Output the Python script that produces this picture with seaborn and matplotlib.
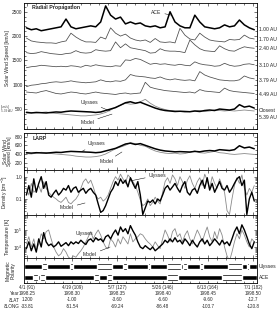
import numpy as np
import matplotlib
matplotlib.use("Agg")
import matplotlib.pyplot as plt
import seaborn as sns
from matplotlib.ticker import FixedLocator, MultipleLocator, LogLocator, NullFormatter, FixedFormatter
from matplotlib.patches import Rectangle

sns.set_theme(style="ticks")
plt.rcParams['font.family'] = ['Liberation Sans', 'DejaVu Sans']
plt.rcParams['font.size'] = 3.5
plt.rcParams['mathtext.fontset'] = 'custom'
plt.rcParams['mathtext.rm'] = 'Liberation Sans'

# ---------------- data ----------------
days2 = np.arange(91, 184, 2)   # day of year, 2-day sampling
days1 = np.arange(91, 184)      # day of year, daily sampling

ace_100au = [2170, 2130, 2150, 2110, 2130, 2150, 2170, 2190, 2350, 2190,
             2150, 2170, 2190, 2210, 2190, 2290, 2620, 2430, 2350, 2390,
             2250, 2290, 2250, 2270, 2210, 2190, 2210, 2170, 2190, 2500,
             2290, 2210, 2170, 2170, 2430, 2290, 2190, 2170, 2150, 2170,
             2230, 2190, 2210, 2330, 2230, 2170, 2130]
prop_170au = [1960, 1900, 1880, 1870, 1860, 1860, 1850, 1880, 1900, 2060,
              1980, 1920, 1880, 1880, 1870, 1980, 1940, 2170, 2060, 2000,
              2040, 1960, 1920, 1900, 1920, 1870, 1950, 1880, 1870, 1880,
              1860, 2160, 2020, 1940, 1920, 2060, 1980, 1920, 1900, 1890,
              1880, 1930, 1920, 1930, 2020, 1960, 1940]
prop_240au = [1660, 1640, 1650, 1680, 1660, 1640, 1630, 1620, 1640, 1650,
              1700, 1660, 1650, 1660, 1720, 1700, 1690, 1700, 1880, 1760,
              1840, 1760, 1740, 1720, 1700, 1650, 1660, 1740, 1700, 1690,
              1690, 1680, 1660, 1920, 1820, 1740, 1700, 1690, 1680, 1800,
              1740, 1700, 1690, 1740, 1780, 1760, 1750]
prop_310au = [1350, 1370, 1380, 1400, 1390, 1380, 1370, 1380, 1370, 1390,
              1380, 1360, 1400, 1380, 1410, 1390, 1380, 1370, 1390, 1380,
              1510, 1500, 1540, 1520, 1470, 1420, 1440, 1420, 1430, 1410,
              1400, 1420, 1400, 1390, 1470, 1430, 1410, 1400, 1380, 1390,
              1440, 1400, 1380, 1390, 1420, 1430, 1410]
prop_379au = [960, 990, 1000, 1020, 1030, 1050, 1060, 1050, 1060, 1080,
              1060, 1050, 1040, 1050, 1060, 1100, 1070, 1060, 1080, 1070,
              1100, 1210, 1180, 1170, 1160, 1140, 1130, 1160, 1120, 1100,
              1120, 1100, 1090, 1100, 1080, 1270, 1200, 1160, 1130, 1100,
              1090, 1080, 1080, 1100, 1180, 1140, 1120]
prop_449au = [850, 840, 830, 860, 880, 850, 820, 810, 830, 850,
              840, 820, 810, 830, 850, 830, 820, 810, 800, 820,
              830, 810, 820, 830, 1050, 950, 920, 900, 880, 870,
              860, 850, 840, 850, 830, 900, 870, 860, 850, 840,
              930, 880, 860, 850, 840, 830, 820]
ulysses_speed = [430, 420, 430, 425, 420, 430, 440, 435, 450, 460,
                 455, 450, 445, 440, 430, 440, 470, 500, 530, 580,
                 630, 650, 620, 640, 600, 560, 520, 490, 470, 460,
                 450, 455, 450, 445, 460, 450, 470, 480, 470, 500,
                 490, 480, 500, 590, 540, 560, 520]
prop_model_539au = [440, 430, 420, 430, 440, 420, 410, 400, 390, 380,
                    370, 360, 360, 370, 380, 400, 430, 480, 540, 580,
                    620, 600, 610, 650, 700, 620, 560, 520, 490, 470,
                    460, 450, 440, 450, 460, 470, 450, 460, 480, 470,
                    460, 470, 460, 470, 480, 470, 460]
larp_model_speed = [410, 400, 420, 440, 430, 410, 400, 390, 380, 370,
                    350, 340, 330, 330, 340, 360, 400, 460, 520, 560,
                    600, 660, 640, 600, 580, 520, 470, 440, 420, 410,
                    420, 400, 410, 440, 470, 430, 420, 440, 460, 430,
                    420, 400, 390, 400, 410, 400, 390]

ulysses_density = [0.15, 0.4, 0.12, 0.8, 0.2, 0.5, 1.0, 0.3, 0.6, 0.15,
                   0.12, 0.18, 0.25, 0.15, 0.2, 0.3, 0.25, 0.4, 0.2, 0.3,
                   0.35, 0.2, 0.25, 0.3, 0.18, 0.25, 0.3, 0.2, 0.15, 0.06,
                   0.025, 0.03, 0.05, 0.1, 0.2, 0.3, 0.6, 0.4, 0.8, 0.5,
                   0.7, 0.35, 0.9, 0.5, 0.3, 0.6, 0.15, 0.02, 0.04, 0.08,
                   0.07, 0.09, 0.06, 0.1, 0.08, 0.15, 0.3, 0.4, 0.25, 0.35,
                   0.5, 0.3, 0.2, 0.4, 0.6, 0.2, 0.15, 0.25, 0.3, 0.18,
                   0.4, 0.7, 0.3, 0.9, 0.25, 0.5, 0.2, 0.35, 0.6, 0.3,
                   0.25, 0.4, 0.2, 0.3, 0.5, 0.8, 1.0, 0.4, 0.7, 0.02,
                   0.1, 0.2, 0.08]
model_density = [0.3, 0.15, 0.5, 0.2, 0.25, 0.4, 0.2, 0.6, 0.3, 0.2,
                 0.15, 0.12, 0.1, 0.08, 0.07, 0.09, 0.12, 0.07, 0.06, 0.08,
                 0.1, 0.15, 0.3, 0.6, 0.8, 0.5, 0.7, 0.35, 0.15, 0.1,
                 0.12, 0.08, 0.1, 0.15, 0.3, 0.6, 1.0, 0.7, 1.3, 0.8,
                 0.5, 1.2, 0.9, 0.6, 0.4, 0.2, 0.09, 0.05, 0.06, 0.1,
                 0.05, 0.07, 0.12, 0.08, 0.06, 0.2, 0.6, 0.9, 0.5, 1.2,
                 0.8, 0.4, 1.0, 0.6, 0.3, 0.7, 1.1, 0.5, 0.3, 0.6,
                 0.9, 0.4, 1.3, 0.7, 0.3, 1.0, 0.5, 0.3, 0.8, 0.4,
                 0.2, 0.03, 0.02, 0.1, 0.4, 0.9, 0.5, 1.2, 0.3, 0.15,
                 0.3, 0.2, 0.4]
ulysses_temp = [8e3, 2e4, 6e3, 1.5e4, 5e3, 3e4, 1e4, 7e4, 2e4, 1.2e4,
                1.5e4, 1e4, 1.3e4, 2e4, 1.1e4, 1.4e4, 1.8e4, 1.2e4, 2e4, 1.5e4,
                2e4, 1.6e4, 2.5e4, 1.8e4, 1.4e4, 2.5e4, 3e4, 2e4, 3.5e4, 2.5e4,
                3e4, 2e4, 4e4, 5e4, 3e4, 6e4, 1e5, 5e4, 1.5e5, 8e4,
                1.2e5, 6e4, 1.8e5, 9e4, 5e4, 2e4, 1e4, 8e3, 1.2e4, 9e3,
                7e3, 1e4, 6e3, 8e3, 1.1e4, 1.5e4, 2.5e4, 1.8e4, 3e4, 2e4,
                3.5e4, 2e4, 2.5e4, 1.5e4, 3e4, 2e4, 1.2e4, 2.5e4, 1.5e4, 1e4,
                2e4, 3e4, 1.5e4, 2.5e4, 1.2e4, 1.8e4, 3e4, 2e4, 1.3e4, 2.5e4,
                1.5e4, 2e4, 1.2e4, 3e4, 8e4, 1.5e5, 6e4, 2e5, 1e5, 4e4,
                1.5e4, 8e3, 2e4]
model_temp = [1.5e4, 4e4, 1e4, 3e4, 6e3, 1.5e4, 6e4, 3e4, 8e4, 1e5,
              3e4, 1e4, 5e3, 3e3, 4e3, 8e3, 5e3, 2.5e3, 2e3, 3e3,
              2.5e3, 4e3, 6e3, 1e4, 2e4, 4e4, 8e4, 3e4, 6e4, 1e5,
              5e4, 2e4, 1e4, 8e3, 3e4, 2e4, 1e4, 3e4, 1.5e4, 4e4,
              2.5e4, 1.5e4, 6e4, 2e4, 3e4, 4e4, 6e4, 5e4, 3e4, 2e4,
              1.5e4, 1e4, 2e4, 1.2e4, 8e3, 3e4, 1e5, 5e4, 2e4, 8e4,
              1.2e5, 4e4, 6e4, 2e4, 5e4, 9e4, 3e4, 1.5e4, 4e4, 1e5,
              5e4, 2e4, 6e4, 1.5e5, 4e4, 2e4, 8e4, 3e4, 1.2e5, 5e4,
              1e4, 3e3, 1.5e3, 5e3, 2e4, 6e4, 3e4, 1e5, 5e4, 2e4,
              1e4, 3e4, 2e4]

# magnetic polarity: start/end day of the "black" sectors
uly_pol_start = [90.0, 99.3, 109.8, 125.6, 131.6, 140.9, 153.4, 155.9, 162.3, 178.1, 180.9]
uly_pol_end = [97.3, 108.6, 119.5, 130.0, 140.1, 147.8, 154.2, 161.1, 172.4, 180.1, 184.2]
ace_pol_start = [90.0, 95.7, 98.5, 120.3, 125.6, 152.2, 178.1]
ace_pol_end = [93.7, 96.5, 118.2, 123.6, 147.8, 170.0, 184.2]

# x tick labels
tick_days = [91.25, 109.5, 127.75, 146.0, 164.25, 182.5]
tick_dates = ["4/1 (91)", "4/19 (109)", "5/7 (127)", "5/26 (146)", "6/13 (164)", "7/1 (182)"]
tick_years = ["1998.25", "1998.30", "1998.35", "1998.40", "1998.45", "1998.50"]
tick_dlat = ["1.200", "-1.00", "-3.60", "-6.60", "-9.60", "-12.7"]
tick_dlong = ["-33.81", "-51.54", "-69.24", "-86.48", "-103.7", "-120.8"]

trace_labels = ["1.00 AU", "1.70 AU", "2.40 AU", "3.10 AU", "3.79 AU", "4.49 AU"]
trace_label_levels = [2144, 1939, 1754, 1404, 1096, 808]

# ---------------- figure ----------------
fig = plt.figure(figsize=(2.79, 3.10), dpi=100)
FW, FH = 279.0, 310.0
L, W = 24 / FW, 233 / FW


def add(top, bot):
    return fig.add_axes([L, 1 - bot / FH, W, (bot - top) / FH])


ax1 = add(3, 129)
ax2 = add(133, 170)
ax3 = add(170, 215)
ax4 = add(215, 258)
ax5 = add(258, 283)
axes = [ax1, ax2, ax3, ax4, ax5]

DARK = "#4a4a4a"
GRAY = "#8a8a8a"
TXT = 3.6
TICK = 3.4

# panel 1: radial propagation
sns.lineplot(x=days2, y=ace_100au, ax=ax1, color="black", linewidth=1.1)
for tr in [prop_170au, prop_240au, prop_310au, prop_379au, prop_449au]:
    sns.lineplot(x=days2, y=tr, ax=ax1, color=DARK, linewidth=0.55)
sns.lineplot(x=days2, y=prop_model_539au, ax=ax1, color=GRAY, linewidth=0.6)
sns.lineplot(x=days2, y=ulysses_speed, ax=ax1, color="black", linewidth=1.1)
ax1.set_ylim(90, 2680)
ax1.yaxis.set_major_locator(FixedLocator([500, 1000, 1500, 2000, 2500]))
ax1.yaxis.set_minor_locator(MultipleLocator(100))
ax1.set_ylabel("Solar Wind Speed [km/s]", fontsize=TXT)
ax1.yaxis.set_label_coords(-0.058, 0.56)
ax1.text(0.035, 0.985, "Radial Propagation", transform=ax1.transAxes, fontsize=3.8,
         fontweight="bold", va="top", ha="left")
for lab, lev in zip(trace_labels, trace_label_levels):
    ax1.text(1.008, lev, lab, transform=ax1.get_yaxis_transform(), fontsize=TXT,
             va="center", ha="left")
ax1.text(1.008, 480, "Closest", transform=ax1.get_yaxis_transform(), fontsize=TXT,
         va="center", ha="left")
ax1.text(1.008, 336, "5.39 AU", transform=ax1.get_yaxis_transform(), fontsize=TXT,
         va="center", ha="left")
ax1.text(-0.098, 500, "[km/s]\n5.39 AU", transform=ax1.get_yaxis_transform(),
         fontsize=2.3, va="center", ha="left", color=DARK, linespacing=0.9)
arrow = dict(arrowstyle="-", lw=0.35, color="black", shrinkA=0, shrinkB=0)
ax1.annotate("ACE", xy=(149.6, 2430), xytext=(143.5, 2494), fontsize=TXT,
             ha="center", va="center", arrowprops=arrow)
ax1.annotate("Ulysses", xy=(124.8, 459), xytext=(116.3, 637), fontsize=TXT,
             ha="center", va="center", arrowprops=arrow)
ax1.annotate("Model", xy=(125.6, 397), xytext=(115.7, 233), fontsize=TXT,
             ha="center", va="center", arrowprops=arrow)

# panel 2: LARP
sns.lineplot(x=days2, y=larp_model_speed, ax=ax2, color=GRAY, linewidth=0.6)
sns.lineplot(x=days2, y=ulysses_speed, ax=ax2, color="black", linewidth=1.1)
ax2.set_ylim(30, 885)
ax2.yaxis.set_major_locator(FixedLocator([200, 400, 600, 800]))
ax2.yaxis.set_minor_locator(MultipleLocator(100))
ax2.set_ylabel("Solar Wind\nSpeed [km/s]", fontsize=TXT, linespacing=0.95)
ax2.yaxis.set_label_coords(-0.05, 0.5)
ax2.text(0.035, 0.93, "LARP", transform=ax2.transAxes, fontsize=3.8,
         fontweight="bold", va="top", ha="left")
ax2.annotate("Ulysses", xy=(113.5, 462), xytext=(119.1, 631), fontsize=TXT,
             ha="center", va="center", arrowprops=arrow)
ax2.annotate("Model", xy=(129.6, 447), xytext=(123.2, 216), fontsize=TXT,
             ha="center", va="center", arrowprops=arrow)

# panel 3: density
sns.lineplot(x=days1, y=model_density, ax=ax3, color=GRAY, linewidth=0.6)
sns.lineplot(x=days1, y=ulysses_density, ax=ax3, color="black", linewidth=1.0)
ax3.set_yscale("log")
ax3.set_ylim(0.019, 2.0)
ax3.yaxis.set_major_locator(FixedLocator([0.1, 1.0]))
ax3.yaxis.set_major_formatter(FixedFormatter(["0.1", "1.0"]))
ax3.yaxis.set_minor_locator(LogLocator(base=10, subs=np.arange(2, 10)))
ax3.yaxis.set_minor_formatter(NullFormatter())
ax3.set_ylabel("Density [cm$^{-3}$]", fontsize=TXT)
ax3.yaxis.set_label_coords(-0.058, 0.5)
ax3.annotate("Ulysses", xy=(132.8, 0.64), xytext=(140.3, 1.15), fontsize=TXT,
             ha="left", va="center", arrowprops=arrow)
ax3.annotate("Model", xy=(114.7, 0.066), xytext=(107.4, 0.04), fontsize=TXT,
             ha="center", va="center", arrowprops=arrow)

# panel 4: temperature
sns.lineplot(x=days1, y=model_temp, ax=ax4, color=GRAY, linewidth=0.6)
sns.lineplot(x=days1, y=ulysses_temp, ax=ax4, color="black", linewidth=1.0)
ax4.set_yscale("log")
ax4.set_ylim(2250, 7.6e5)
ax4.yaxis.set_major_locator(FixedLocator([1e4, 1e5]))
ax4.yaxis.set_major_formatter(FixedFormatter(["$10^4$", "$10^5$"]))
ax4.yaxis.set_minor_locator(LogLocator(base=10, subs=np.arange(2, 10)))
ax4.yaxis.set_minor_formatter(NullFormatter())
ax4.set_ylabel("Temperature [K]", fontsize=TXT)
ax4.yaxis.set_label_coords(-0.058, 0.5)
ax4.annotate("Ulysses", xy=(120.7, 2.6e4), xytext=(114.5, 6.6e4), fontsize=TXT,
             ha="center", va="center", arrowprops=arrow)
ax4.annotate("Model", xy=(124.8, 1e4), xytext=(116.7, 3400), fontsize=TXT,
             ha="center", va="center", arrowprops=arrow)

# panel 5: magnetic polarity
XL = (90.05, 184.1)
ax5.set_ylim(0, 1)
ax5.add_patch(Rectangle((XL[0], 0.56), XL[1] - XL[0], 0.2, fill=False, lw=0.5, edgecolor="black"))
ax5.add_patch(Rectangle((XL[0], 0.12), XL[1] - XL[0], 0.2, fill=False, lw=0.5, edgecolor="black"))
ax5.broken_barh([(s, e - s) for s, e in zip(uly_pol_start, uly_pol_end)], (0.56, 0.2),
                facecolors="black")
ax5.broken_barh([(s, e - s) for s, e in zip(ace_pol_start, ace_pol_end)], (0.12, 0.2),
                facecolors="black")
ax5.set_yticks([])
ax5.set_ylabel("Magnetic\nPolarity", fontsize=TXT, linespacing=0.95)
ax5.yaxis.set_label_coords(-0.035, 0.5)
ax5.text(1.008, 0.66, "Ulysses", transform=ax5.transAxes, fontsize=TXT, va="center", ha="left")
ax5.text(1.008, 0.22, "ACE", transform=ax5.transAxes, fontsize=TXT, va="center", ha="left")

# shared x axis styling
minor_x = np.arange(tick_days[0] - 18.25, tick_days[-1] + 18.25, 18.25 / 5)
for ax in axes:
    ax.set_xlim(*XL)
    ax.xaxis.set_major_locator(FixedLocator(tick_days))
    ax.xaxis.set_minor_locator(FixedLocator(minor_x))
    ax.tick_params(which="both", direction="in", top=True, right=True,
                   width=0.45, labelsize=TICK, pad=1.2)
    ax.tick_params(which="major", length=2.5)
    ax.tick_params(which="minor", length=1.3)
    for sp in ax.spines.values():
        sp.set_linewidth(0.6)
        sp.set_color("black")
    ax.set_xlabel("")
    ax.set_facecolor("white")
    if ax is not ax5:
        ax.tick_params(labelbottom=False)

ax5.set_xticklabels([f"{a}\n{b}\n{c}\n{d}" for a, b, c, d in
                     zip(tick_dates, tick_years, tick_dlat, tick_dlong)])
for lbl in ax5.get_xticklabels():
    lbl.set_fontsize(3.3)
    lbl.set_linespacing(1.35)
ax5.text(-0.018, -0.075, "\nYear\nδLAT\nδLONG", transform=ax5.transAxes,
         fontsize=3.3, ha="right", va="top", linespacing=1.35)

fig.savefig("out.png", dpi=100, facecolor="white")
